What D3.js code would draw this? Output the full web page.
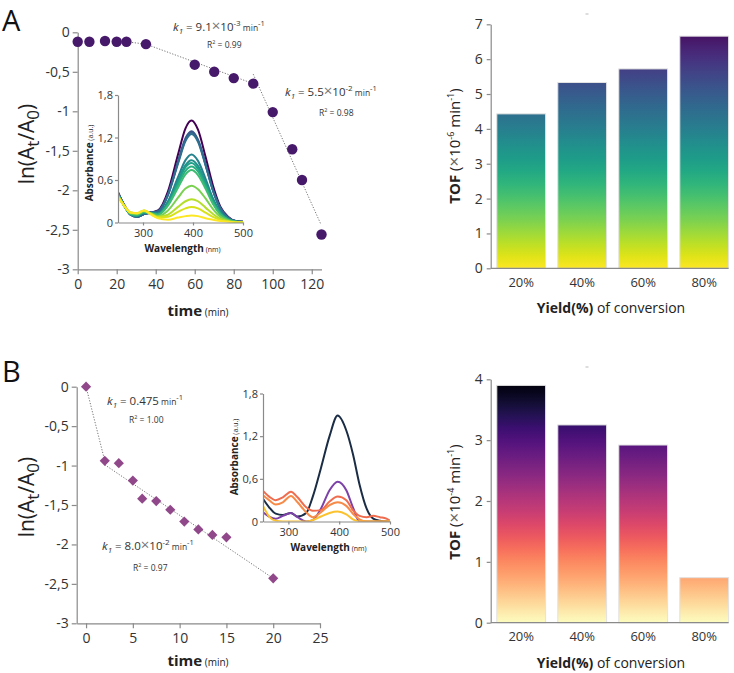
<!DOCTYPE html>
<html lang="en">
<head>
<meta charset="UTF-8" />
<script src="https://d3js.org/d3.v7.min.js"></script>
<style>
  body { margin: 0; background: #fff; }
  svg { font-family: 'Open Sans', 'Noto Sans', sans-serif; }
</style>
</head>
<body>
<svg id="chart" width="734" height="673"></svg>
<script>
// ---- panel A : kinetics ----
const timeA = [0, 6, 14, 20, 25, 35, 60, 70, 80, 90, 100, 110, 115, 125]
const lnA = [-0.12, -0.12, -0.11, -0.12, -0.12, -0.15, -0.41, -0.50, -0.58, -0.65, -1.01, -1.48, -1.87, -2.56]
const fitA1 = [[25, -0.12], [35, -0.15], [90, -0.65]]
const fitA2 = [[90, -0.53], [124.5, -2.42]]
const ticksA_x = [0, 20, 40, 60, 80, 100, 120]

// ---- panel B : kinetics ----
const timeB = [0, 2, 3.5, 5, 6, 7.5, 9, 10.5, 12, 13.5, 15, 20]
const lnB = [0, -0.94, -0.97, -1.19, -1.42, -1.45, -1.56, -1.71, -1.81, -1.88, -1.91, -2.43]
const fitB1 = [[0, 0], [2, -0.94]]
const fitB2 = [[2, -0.99], [20, -2.43]]
const ticksB_x = [0, 5, 10, 15, 20, 25]
const ticksLn = [0, -0.5, -1, -1.5, -2, -2.5, -3]

// ---- inset spectra A ----
const wlA = [250, 262, 275, 288, 302, 315, 330, 350, 370, 385, 397, 410, 425, 440, 455, 470, 485, 500]
const specA = [
  [.43, .25, .12, .08, .12, .14, .17, .44, .96, 1.33, 1.44, 1.31, .93, .52, .22, .08, .02, .01],
  [.42, .25, .11, .08, .12, .14, .16, .40, .86, 1.19, 1.29, 1.17, .83, .46, .20, .07, .02, .01],
  [.42, .25, .11, .08, .12, .14, .16, .39, .85, 1.17, 1.27, 1.16, .82, .45, .20, .07, .02, .01],
  [.41, .25, .11, .08, .12, .14, .15, .39, .83, 1.15, 1.25, 1.14, .81, .45, .19, .07, .02, .01],
  [.40, .24, .12, .09, .14, .13, .13, .30, .64, .88, .96, .87, .62, .34, .15, .05, .01, 0],
  [.40, .24, .12, .10, .14, .13, .12, .28, .59, .81, .88, .80, .57, .32, .14, .05, .01, 0],
  [.39, .24, .12, .10, .14, .13, .12, .27, .56, .78, .84, .76, .54, .30, .13, .04, .01, 0],
  [.39, .24, .12, .10, .15, .13, .11, .25, .53, .73, .79, .72, .51, .28, .12, .04, .01, 0],
  [.38, .24, .13, .11, .15, .13, .11, .24, .49, .68, .74, .67, .48, .26, .11, .04, .01, 0],
  [.38, .24, .13, .12, .16, .13, .09, .17, .35, .48, .52, .47, .34, .19, .08, .03, .01, 0],
  [.37, .24, .14, .13, .17, .13, .08, .11, .22, .30, .33, .30, .21, .12, .05, .02, 0, 0],
  [.37, .24, .14, .13, .17, .12, .07, .08, .15, .20, .22, .20, .14, .08, .03, .01, 0, 0],
  [.36, .24, .14, .13, .17, .12, .06, .04, .07, .09, .10, .09, .06, .04, .02, .01, 0, 0]
]
const specAColors = ['#440154', '#3b528b', '#355f8d', '#2e6e8e', '#26828e', '#21918c', '#1fa088',
  '#28ae80', '#3fbc73', '#7ad151', '#b5de2b', '#d8e219', '#fde725']

// ---- inset spectra B ----
const wlB = [250, 262, 275, 289, 305, 318, 335, 348, 364, 381, 397, 414, 427, 440, 454, 467, 480, 493, 500]
const specB = [
  [.32, .20, .11, .09, .12, .07, .12, .35, .75, 1.20, 1.49, 1.28, .95, .52, .18, .04, .01, 0, 0],
  [.13, .07, .04, .08, .12, .06, 0, .02, .18, .44, .56, .44, .20, 0, 0, 0, 0, 0, 0],
  [.43, .35, .30, .34, .42, .34, .20, .15, .16, .28, .35, .30, .16, .08, .06, .08, .06, .04, .01],
  [.37, .30, .24, .27, .36, .27, .13, .06, .13, .23, .27, .22, .11, .03, 0, 0, 0, 0, 0],
  [.22, .07, .01, 0, 0, 0, 0, .02, .07, .12, .14, .10, .03, 0, 0, 0, 0, 0, 0]
]
const specBColors = ['#1b2d46', '#7d42a8', '#f06c4e', '#f88a48', '#fcc22d']

// ---- TOF bars ----
const yields = ['20%', '40%', '60%', '80%']
const tofA = [4.43, 5.33, 5.72, 6.66]
const tofB = [3.90, 3.25, 2.92, 0.74]

const fmt = d3.formatLocale({ decimal: ',', thousands: '.', grouping: [3], currency: ['', ''], minus: '-' }).format('~g')
const svg = d3.select('#chart')
const axisCol = '#8a8a8a', textCol = '#333'

function styleAxis(g, fs) {
  g.attr('font-family', null).attr('font-size', fs)
  g.selectAll('path, line').attr('stroke', axisCol).attr('stroke-width', 1.2)
  g.selectAll('text').attr('fill', textCol)
}

// rich text helper: parts = [text, {size, dy, italic, bold, fill}]
function rich(sel, parts) {
  let shift = 0
  parts.forEach(([t, o]) => {
    o = o || {}
    const ts = sel.append('tspan').text(t)
    const target = o.dy || 0
    if (target - shift) ts.attr('dy', target - shift)
    shift = target
    if (o.size) ts.attr('font-size', o.size)
    if (o.italic) ts.attr('font-style', 'italic')
    if (o.bold) ts.attr('font-weight', 'bold')
    if (o.fill) ts.attr('fill', o.fill)
  })
  return sel
}

function kinetics(cfg) {
  const x = d3.scaleLinear().domain(cfg.xDomain).range(cfg.xRange)
  const y = d3.scaleLinear().domain([-3, 0]).range(cfg.yRange)
  svg.append('g').attr('transform', `translate(0,${y(-3)})`)
    .call(d3.axisBottom(x).tickValues(cfg.xTicks).tickSize(5).tickPadding(5).tickSizeOuter(0))
    .call(g => styleAxis(g, 14))
  svg.append('g').attr('transform', `translate(${cfg.xRange[0]},0)`)
    .call(d3.axisLeft(y).tickValues(ticksLn).tickFormat(fmt).tickSize(5).tickPadding(3).tickSizeOuter(0))
    .call(g => styleAxis(g, 14))

  const line = d3.line().x(d => x(d[0])).y(d => y(d[1]))
  cfg.fits.forEach(f => {
    svg.append('path').attr('d', line(f)).attr('fill', 'none')
      .attr('stroke', '#666').attr('stroke-width', 0.9).attr('stroke-dasharray', '1.2,1.6')
  })

  // axis titles
  rich(svg.append('text').attr('x', cfg.titleX).attr('y', cfg.yRange[0] + cfg.titleDy)
    .attr('text-anchor', 'middle').attr('fill', '#222'),
    [['time', { size: 15, bold: true }], [' (min)', { size: 10 }]])
  rich(svg.append('text')
    .attr('transform', `translate(34,${cfg.titleY}) rotate(-90)`)
    .attr('text-anchor', 'middle').attr('font-size', 21).attr('fill', '#222'),
    [['ln(A'], ['t', { size: 17, dy: 5 }], ['/A'], ['0', { size: 17, dy: 5 }], [')']])
  return { x, y }
}

function kText(x, y, main, exp, r2, r2x, r2y) {
  const t = svg.append('text').attr('x', x).attr('y', y).attr('font-size', 11.5).attr('fill', textCol)
  const parts = [['k', { italic: true }], ['1', { italic: true, size: 8, dy: 3 }], [' = ' + main]]
  if (exp) parts.push(['×', { size: 15, fill: '#777' }], ['10'], [exp, { size: 8, dy: -5 }])
  parts.push([' min', { size: 8.5 }], ['-1', { size: 7.5, dy: -5 }])
  rich(t, parts)
  rich(svg.append('text').attr('x', r2x).attr('y', r2y).attr('font-size', 8.5).attr('fill', textCol),
    [['R'], ['2', { size: 5.5, dy: -4 }], [' = ' + r2]])
}

function inset(cfg) {
  const x = d3.scaleLinear().domain([250, 500]).range(cfg.xRange)
  const y = d3.scaleLinear().domain([0, 1.8]).range(cfg.yRange)
  const id = 'clip' + cfg.id
  svg.append('clipPath').attr('id', id).append('rect')
    .attr('x', cfg.xRange[0]).attr('y', cfg.yRange[1] - 2)
    .attr('width', cfg.xRange[1] - cfg.xRange[0]).attr('height', cfg.yRange[0] - cfg.yRange[1] + 2)
  const line = d3.line().x((d, i) => x(cfg.wl[i])).y(d => y(d)).curve(d3.curveMonotoneX)
  svg.append('g').attr('clip-path', `url(#${id})`)
    .selectAll('path').data(cfg.spec).join('path')
    .attr('d', line).attr('fill', 'none').attr('stroke-width', 2)
    .attr('stroke', (d, i) => cfg.colors[i])
  svg.append('g').attr('transform', `translate(0,${cfg.yRange[0]})`)
    .call(d3.axisBottom(x).tickValues([300, 400, 500]).tickSize(3).tickPadding(4).tickSizeOuter(0))
    .call(g => styleAxis(g, 11))
  svg.append('g').attr('transform', `translate(${cfg.xRange[0]},0)`)
    .call(d3.axisLeft(y).tickValues([0, 0.6, 1.2, 1.8]).tickFormat(fmt).tickSize(3).tickPadding(2).tickSizeOuter(0))
    .call(g => styleAxis(g, 11))
  rich(svg.append('text').attr('x', (cfg.xRange[0] + cfg.xRange[1]) / 2 + 2).attr('y', cfg.yRange[0] + 29)
    .attr('text-anchor', 'middle').attr('fill', '#222'),
    [['Wavelength', { size: 10, bold: true }], [' (nm)', { size: 7 }]])
  rich(svg.append('text')
    .attr('transform', `translate(${cfg.xRange[0] - 25},${cfg.titleY}) rotate(-90)`)
    .attr('text-anchor', 'middle').attr('fill', '#222'),
    [['Absorbance', { size: 10, bold: true }], [' (a.u.)', { size: 7 }]])
}

function bars(cfg) {
  const x = d3.scaleBand().domain(yields).range([490.7, 734.7]).paddingInner(0.2).paddingOuter(0.1)
  const y = d3.scaleLinear().domain([0, cfg.max]).range(cfg.yRange)
  const grad = svg.append('defs').append('linearGradient').attr('id', cfg.id)
    .attr('gradientUnits', 'userSpaceOnUse')
    .attr('x1', 0).attr('x2', 0).attr('y1', y(0)).attr('y2', y(cfg.max))
  d3.range(0, 1.0001, 0.05).forEach(t => {
    grad.append('stop').attr('offset', t).attr('stop-color', cfg.interp(1 - t))
  })
  svg.append('g').selectAll('rect').data(cfg.values).join('rect')
    .attr('x', (d, i) => x(yields[i])).attr('width', x.bandwidth())
    .attr('y', d => y(d)).attr('height', d => y(0) - y(d))
    .attr('fill', `url(#${cfg.id})`).attr('stroke', '#e2e2e2').attr('stroke-width', 1)
  svg.append('g').attr('transform', `translate(490.7,0)`)
    .call(d3.axisLeft(y).ticks(cfg.max).tickSize(4).tickPadding(4).tickSizeOuter(0))
    .call(g => styleAxis(g, 14))
  const xa = svg.append('g').attr('transform', `translate(0,${y(0)})`)
    .call(d3.axisBottom(x).tickSize(0).tickPadding(9))
    .call(g => styleAxis(g, 13))
  xa.select('.domain').attr('d', `M490.7,0H${x('80%') + x.bandwidth()}`)
  rich(svg.append('text').attr('x', 611).attr('y', y(0) + 45).attr('text-anchor', 'middle')
    .attr('font-size', 14).attr('fill', '#222'),
    [['Yield(%)', { bold: true }], [' of conversion']])
  rich(svg.append('text').attr('transform', `translate(460,${cfg.titleY}) rotate(-90)`)
    .attr('text-anchor', 'middle').attr('font-size', 15).attr('fill', '#222'),
    [['TOF', { bold: true }], [' ('], ['×', { fill: '#666', size: 17 }], ['10'], [cfg.exp, { size: 9, dy: -6 }],
     [' min'], ['-1', { size: 9, dy: -6 }], [')']])
  svg.append('line').attr('x1', 585.5).attr('x2', 588.5).attr('y1', cfg.dashY).attr('y2', cfg.dashY)
    .attr('stroke', '#bbb').attr('stroke-width', 1)
}

// panel letters
svg.append('text').attr('x', 2).attr('y', 31).attr('font-size', 29).attr('fill', '#111').text('A')
svg.append('text').attr('x', 2).attr('y', 382).attr('font-size', 29).attr('fill', '#111').text('B')

// ---- A scatter ----
const pa = kinetics({ xDomain: [0, 125], xRange: [77.7, 321.5], yRange: [269.3, 32.3], xTicks: ticksA_x,
  fits: [fitA1, fitA2], titleX: 198, titleY: 144, titleDy: 47 })
inset({ id: 'A', xRange: [118, 243], yRange: [222.5, 95], wl: wlA, spec: specA, colors: specAColors, titleY: 163 })
svg.append('g').selectAll('circle').data(timeA).join('circle')
  .attr('cx', d => pa.x(d)).attr('cy', (d, i) => pa.y(lnA[i])).attr('r', 5.2).attr('fill', '#47196b')
kText(173, 31, '9.1', '-3', '0.99', 207, 48)
kText(285, 96, '5.5', '-2', '0.98', 319, 116)

// ---- B scatter ----
const pb = kinetics({ xDomain: [-1, 25], xRange: [76.7, 320], yRange: [623.3, 386.7], xTicks: ticksB_x,
  fits: [fitB1, fitB2], titleX: 198, titleY: 497, titleDy: 43 })
inset({ id: 'B', xRange: [263, 390], yRange: [521.5, 393.5], wl: wlB, spec: specB, colors: specBColors, titleY: 457 })
svg.append('g').selectAll('path.dia').data(timeB).join('path').attr('class', 'dia')
  .attr('d', d3.symbol(d3.symbolSquare, 52))
  .attr('transform', (d, i) => `translate(${pb.x(d)},${pb.y(lnB[i])}) rotate(45)`)
  .attr('fill', '#91488a')
kText(107, 405, '0.475', null, '1.00', 129, 423)
kText(102, 550, '8.0', '-2', '0.97', 133, 571)

// ---- TOF bars ----
bars({ id: 'gradA', values: tofA, max: 7, yRange: [268.3, 24.3], interp: d3.interpolateViridis,
  exp: '-6', titleY: 146, dashY: 14 })
bars({ id: 'gradB', values: tofB, max: 4, yRange: [622.7, 379.3], interp: d3.interpolateMagma,
  exp: '-4', titleY: 502, dashY: 367 })
</script>
</body>
</html>
